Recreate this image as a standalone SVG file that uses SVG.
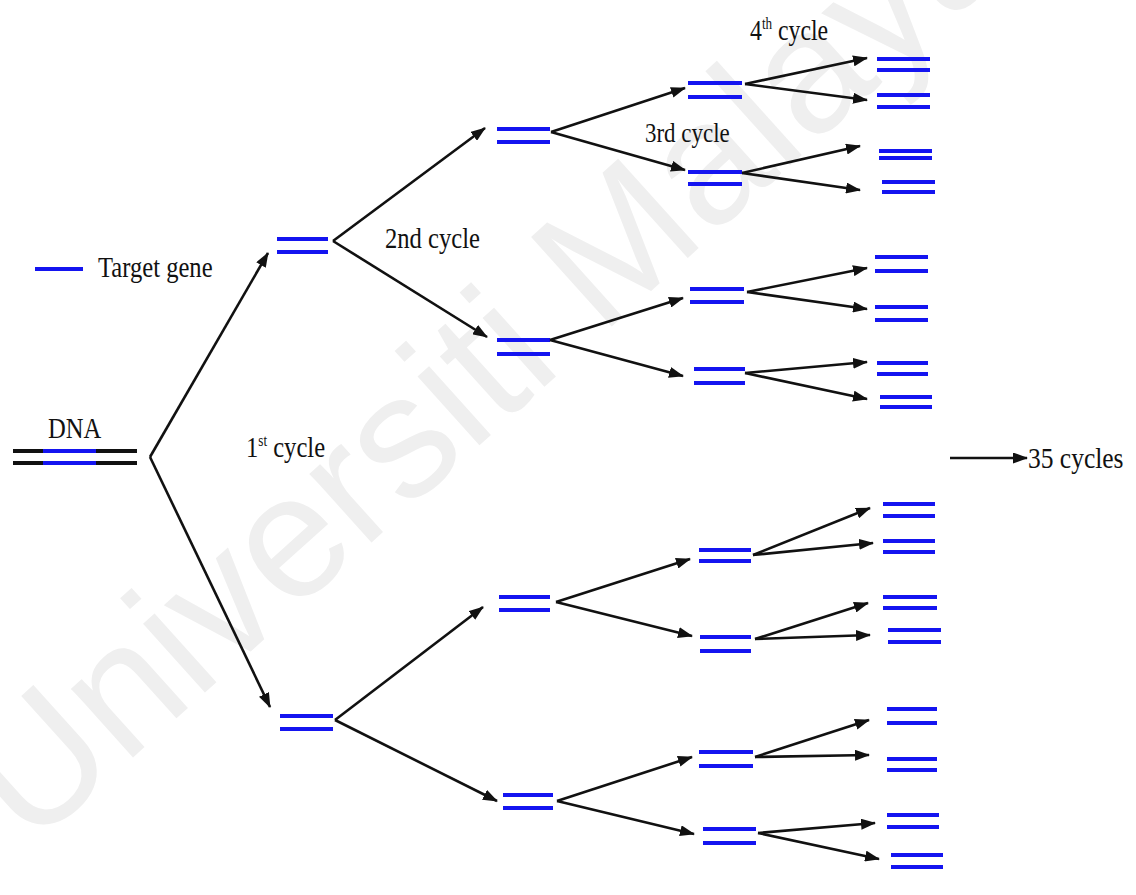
<svg xmlns="http://www.w3.org/2000/svg" width="1136" height="895" viewBox="0 0 1136 895">
  <style>
    .lbl { font-family: 'Liberation Serif', 'Times New Roman', serif; font-size: 30px; fill: #111; }
    .sup { font-size: 16px; }
    .gene { stroke: #1414f0; stroke-width: 4; fill: none; }
    .strand { stroke: #111; stroke-width: 4; fill: none; }
    .conn line { stroke: #111; stroke-width: 2.6; marker-end: url(#head); }
    .wm { font-family: 'Liberation Sans', Arial, sans-serif; font-size: 175px; fill: #efefef; }
  </style>
  <defs>
    <marker id="head" markerUnits="userSpaceOnUse" markerWidth="15" markerHeight="11" refX="14" refY="5.5" orient="auto">
      <path d="M0,0 L15,5.5 L0,11 z" fill="#111"/>
    </marker>
  </defs>

  <rect width="1136" height="895" fill="#ffffff"/>

  <!-- background watermark -->
  <text class="wm" transform="translate(30,850) rotate(-42)">Universiti Malaya</text>

  <!-- legend -->
  <g id="legend">
    <line class="gene" x1="35" y1="269" x2="83" y2="269"/>
    <text class="lbl" transform="translate(98,277) scale(0.82,1)">Target gene</text>
  </g>

  <!-- parent DNA -->
  <g id="dna">
    <text class="lbl" transform="translate(48,438) scale(0.82,1)">DNA</text>
    <line class="strand" x1="13" y1="451" x2="137" y2="451"/>
    <line class="strand" x1="13" y1="463" x2="137" y2="463"/>
    <line class="gene" x1="43" y1="451" x2="96" y2="451"/>
    <line class="gene" x1="43" y1="463" x2="96" y2="463"/>
  </g>

  <!-- cycle labels -->
  <g id="labels">
    <text class="lbl" transform="translate(246,457) scale(0.82,1)">1<tspan class="sup" dy="-11">st</tspan><tspan dy="11"> cycle</tspan></text>
    <text class="lbl" transform="translate(385,248) scale(0.82,1)">2nd cycle</text>
    <text class="lbl" transform="translate(645,142) scale(0.82,1)" style="font-size:28px">3rd cycle</text>
    <text class="lbl" transform="translate(750,40) scale(0.82,1)" style="font-size:29px">4<tspan class="sup" dy="-11">th</tspan><tspan dy="11"> cycle</tspan></text>
    <text class="lbl" transform="translate(1028,468) scale(0.85,1)">35 cycles</text>
  </g>

  <!-- generation 1 -->
  <g id="g1-up"><line class="gene" x1="277" y1="239" x2="328" y2="239"/><line class="gene" x1="277" y1="252" x2="328" y2="252"/></g>
  <g id="g1-lo"><line class="gene" x1="280" y1="716" x2="333" y2="716"/><line class="gene" x1="280" y1="729" x2="333" y2="729"/></g>

  <!-- generation 2 -->
  <g id="g2-a"><line class="gene" x1="497" y1="129" x2="550" y2="129"/><line class="gene" x1="497" y1="142" x2="550" y2="142"/></g>
  <g id="g2-b"><line class="gene" x1="497" y1="340" x2="550" y2="340"/><line class="gene" x1="497" y1="354" x2="550" y2="354"/></g>
  <g id="g2-c"><line class="gene" x1="499" y1="597" x2="550" y2="597"/><line class="gene" x1="499" y1="610" x2="550" y2="610"/></g>
  <g id="g2-d"><line class="gene" x1="503" y1="795" x2="553" y2="795"/><line class="gene" x1="503" y1="808" x2="553" y2="808"/></g>

  <!-- generation 3 -->
  <g id="g3-a1"><line class="gene" x1="688" y1="83" x2="742" y2="83"/><line class="gene" x1="688" y1="97" x2="742" y2="97"/></g>
  <g id="g3-a2"><line class="gene" x1="688" y1="172" x2="742" y2="172"/><line class="gene" x1="688" y1="184" x2="742" y2="184"/></g>
  <g id="g3-b1"><line class="gene" x1="690" y1="289" x2="744" y2="289"/><line class="gene" x1="690" y1="302" x2="744" y2="302"/></g>
  <g id="g3-b2"><line class="gene" x1="694" y1="369" x2="745" y2="369"/><line class="gene" x1="694" y1="383" x2="745" y2="383"/></g>
  <g id="g3-c1"><line class="gene" x1="699" y1="550" x2="751" y2="550"/><line class="gene" x1="699" y1="561" x2="751" y2="561"/></g>
  <g id="g3-c2"><line class="gene" x1="700" y1="637" x2="751" y2="637"/><line class="gene" x1="700" y1="651" x2="751" y2="651"/></g>
  <g id="g3-d1"><line class="gene" x1="699" y1="752" x2="753" y2="752"/><line class="gene" x1="699" y1="766" x2="753" y2="766"/></g>
  <g id="g3-d2"><line class="gene" x1="703" y1="829" x2="756" y2="829"/><line class="gene" x1="703" y1="843" x2="756" y2="843"/></g>

  <!-- generation 4 -->
  <g id="g4-a1a"><line class="gene" x1="877" y1="59" x2="930" y2="59"/><line class="gene" x1="877" y1="70" x2="930" y2="70"/></g>
  <g id="g4-a1b"><line class="gene" x1="877" y1="95" x2="930" y2="95"/><line class="gene" x1="877" y1="107" x2="930" y2="107"/></g>
  <g id="g4-a2a"><line class="gene" x1="879" y1="151" x2="932" y2="151"/><line class="gene" x1="879" y1="158" x2="932" y2="158"/></g>
  <g id="g4-a2b"><line class="gene" x1="882" y1="182" x2="935" y2="182"/><line class="gene" x1="882" y1="192" x2="935" y2="192"/></g>
  <g id="g4-b1a"><line class="gene" x1="875" y1="257" x2="928" y2="257"/><line class="gene" x1="875" y1="271" x2="928" y2="271"/></g>
  <g id="g4-b1b"><line class="gene" x1="875" y1="307" x2="928" y2="307"/><line class="gene" x1="875" y1="320" x2="928" y2="320"/></g>
  <g id="g4-b2a"><line class="gene" x1="877" y1="363" x2="928" y2="363"/><line class="gene" x1="877" y1="374" x2="928" y2="374"/></g>
  <g id="g4-b2b"><line class="gene" x1="880" y1="397" x2="932" y2="397"/><line class="gene" x1="880" y1="407" x2="932" y2="407"/></g>
  <g id="g4-c1a"><line class="gene" x1="883" y1="504" x2="935" y2="504"/><line class="gene" x1="883" y1="516" x2="935" y2="516"/></g>
  <g id="g4-c1b"><line class="gene" x1="883" y1="541" x2="935" y2="541"/><line class="gene" x1="883" y1="552" x2="935" y2="552"/></g>
  <g id="g4-c2a"><line class="gene" x1="883" y1="597" x2="937" y2="597"/><line class="gene" x1="883" y1="608" x2="937" y2="608"/></g>
  <g id="g4-c2b"><line class="gene" x1="888" y1="630" x2="941" y2="630"/><line class="gene" x1="888" y1="642" x2="941" y2="642"/></g>
  <g id="g4-d1a"><line class="gene" x1="887" y1="709" x2="937" y2="709"/><line class="gene" x1="887" y1="723" x2="937" y2="723"/></g>
  <g id="g4-d1b"><line class="gene" x1="887" y1="759" x2="937" y2="759"/><line class="gene" x1="887" y1="770" x2="937" y2="770"/></g>
  <g id="g4-d2a"><line class="gene" x1="887" y1="815" x2="939" y2="815"/><line class="gene" x1="887" y1="827" x2="939" y2="827"/></g>
  <g id="g4-d2b"><line class="gene" x1="891" y1="855" x2="943" y2="855"/><line class="gene" x1="891" y1="867" x2="943" y2="867"/></g>

  <!-- replication arrows -->
  <g id="connectors" class="conn">
    <line x1="150" y1="457" x2="268" y2="253"/>
    <line x1="150" y1="457" x2="270" y2="707"/>
    <line x1="333" y1="241" x2="485" y2="128"/>
    <line x1="333" y1="241" x2="487" y2="337"/>
    <line x1="335" y1="720" x2="483" y2="607"/>
    <line x1="335" y1="720" x2="497" y2="801"/>
    <line x1="551" y1="132" x2="685" y2="88"/>
    <line x1="551" y1="132" x2="685" y2="170"/>
    <line x1="550" y1="340" x2="683" y2="298"/>
    <line x1="550" y1="340" x2="683" y2="376"/>
    <line x1="556" y1="602" x2="690" y2="559"/>
    <line x1="556" y1="602" x2="692" y2="636"/>
    <line x1="557" y1="801" x2="692" y2="757"/>
    <line x1="557" y1="801" x2="694" y2="834"/>
    <line x1="745" y1="84" x2="867" y2="58"/>
    <line x1="745" y1="84" x2="867" y2="100"/>
    <line x1="742" y1="173" x2="860" y2="146"/>
    <line x1="742" y1="173" x2="860" y2="190"/>
    <line x1="747" y1="292" x2="867" y2="268"/>
    <line x1="747" y1="292" x2="867" y2="309"/>
    <line x1="745" y1="373" x2="867" y2="362"/>
    <line x1="745" y1="373" x2="867" y2="399"/>
    <line x1="753" y1="555" x2="870" y2="508"/>
    <line x1="753" y1="555" x2="873" y2="543"/>
    <line x1="755" y1="639" x2="868" y2="603"/>
    <line x1="755" y1="639" x2="870" y2="635"/>
    <line x1="755" y1="757" x2="869" y2="720"/>
    <line x1="755" y1="757" x2="869" y2="755"/>
    <line x1="758" y1="833" x2="875" y2="823"/>
    <line x1="758" y1="833" x2="879" y2="859"/>
    <line x1="950" y1="458" x2="1027" y2="458"/>
  </g>
</svg>
